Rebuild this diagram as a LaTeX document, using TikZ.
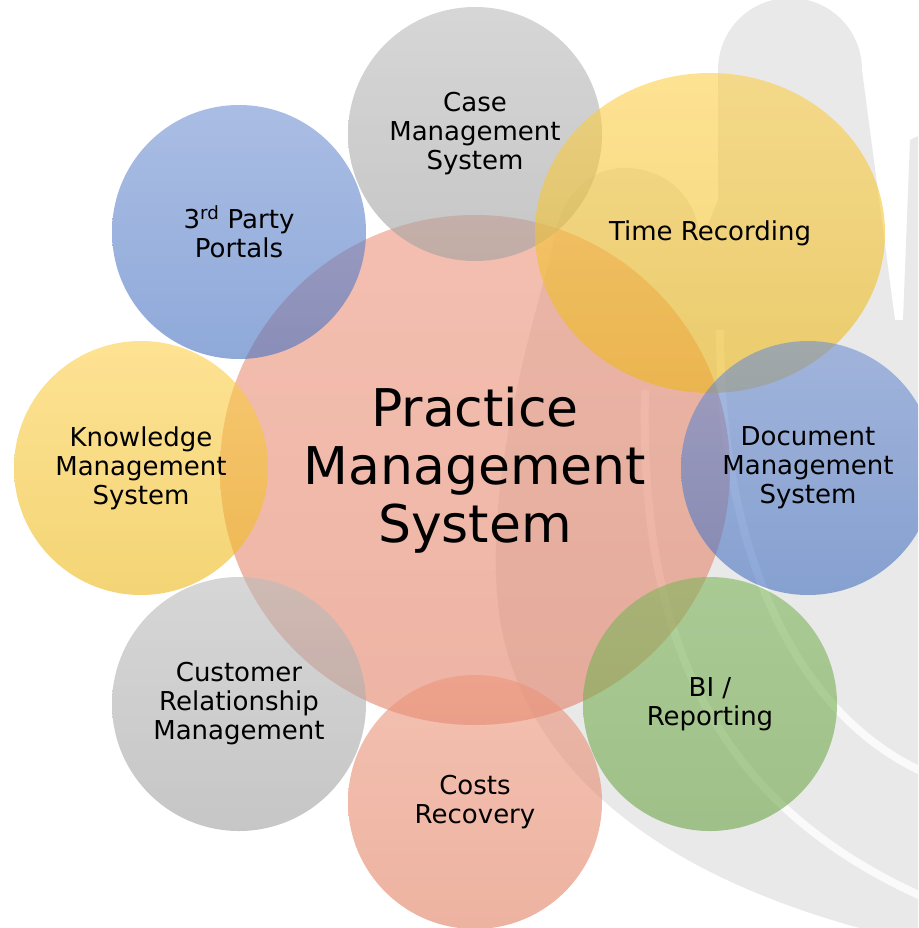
\documentclass[tikz,border=0pt]{standalone}
\usepackage{fontspec}
\setmainfont{DejaVu Sans}
\usetikzlibrary{shapes.geometric}
\definecolor{wm}{RGB}{233,233,233}
\definecolor{wmline}{RGB}{250,250,250}
\definecolor{gryT}{RGB}{187,187,187}
\definecolor{gryB}{RGB}{160,160,160}
\definecolor{yelT}{RGB}{252,207,75}
\definecolor{yelB}{RGB}{236,184,25}
\definecolor{bluT}{RGB}{113,145,210}
\definecolor{bluB}{RGB}{68,112,192}
\definecolor{grnT}{RGB}{128,182,92}
\definecolor{grnB}{RGB}{110,166,72}
\definecolor{salT}{RGB}{236,150,125}
\definecolor{salB}{RGB}{225,128,98}
\definecolor{cenT}{RGB}{236,148,124}
\definecolor{cenB}{RGB}{226,130,104}
\tikzset{
  bubble/.style={circle, minimum size=254pt, inner sep=0pt, outer sep=0pt,
    fill opacity=0.6, text opacity=1, align=center,
    font=\fontsize{26}{29}\selectfont},
  greyb/.style={bubble, top color=gryT, bottom color=gryB},
  yellowb/.style={bubble, top color=yelT, bottom color=yelB},
  blueb/.style={bubble, top color=bluT, bottom color=bluB},
  greenb/.style={bubble, top color=grnT, bottom color=grnB},
  salmonb/.style={bubble, top color=salT, bottom color=salB},
  wmstripe/.style={draw=wmline, line width=8pt},
}
\begin{document}
\begin{tikzpicture}[x=1pt, y=-1pt]
\useasboundingbox (0,0) rectangle (918,928);
\clip (0,0) rectangle (918,928);
% faint watermark in the background
\fill[wm] (625,168) .. controls (585,168) and (558,200) .. (552,250)
  .. controls (525,350) and (482,500) .. (500,620)
  .. controls (520,740) and (620,880) .. (930,945)
  -- (930,320) -- (895,320) -- (862,70)
  .. controls (862,30) and (830,-2) .. (790,-2)
  .. controls (750,-2) and (718,30) .. (718,70)
  -- (718,200) -- (700,245)
  .. controls (700,200) and (668,168) .. (625,168) -- cycle;
\fill[wm] (910,140) -- (930,130) -- (930,320) -- (903,320) -- cycle;
\draw[wmstripe] (720,330) .. controls (720,560) and (800,720) .. (930,775);
\draw[wmstripe] (645,390) .. controls (640,620) and (700,800) .. (930,900);
% central bubble
\node[bubble, minimum size=510pt, top color=cenT, bottom color=cenB,
      font=\fontsize{52}{58}\selectfont] (pms) at (475,470)
      {Practice\\Management\\System};
% satellites
\node[greyb] (cms) at (475,134) {Case\\Management\\System};
\node[yellowb, ellipse, minimum width=350pt, minimum height=320pt] (tr) at (710,233) {Time Recording};
\node[blueb] (dms) at (808,468) {Document\\Management\\System};
\node[greenb] (bi) at (710,704) {BI /\\Reporting};
\node[salmonb] (cr) at (475,802) {Costs\\Recovery};
\node[greyb] (crm) at (239,704) {Customer\\Relationship\\Management};
\node[yellowb] (kms) at (141,468) {Knowledge\\Management\\System};
\node[blueb] (tpp) at (239,232) {3\textsuperscript{rd} Party\\Portals};
\end{tikzpicture}
\end{document}
